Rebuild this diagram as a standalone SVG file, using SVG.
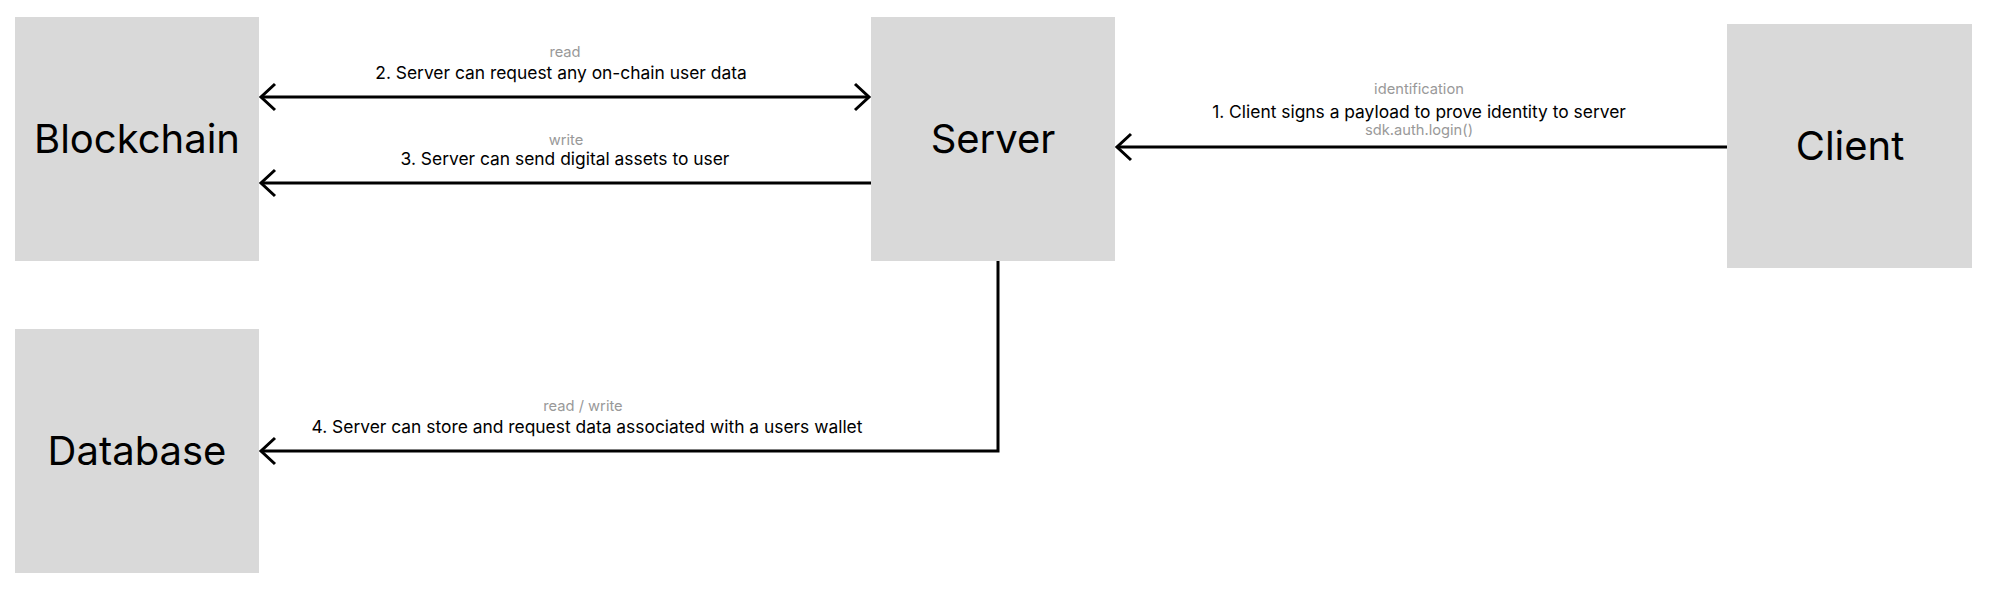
<svg xmlns="http://www.w3.org/2000/svg" width="1990" height="592" viewBox="0 0 1990 592">
<defs>
<style>
.node{fill:#d9d9d9}
.nt{font-family:Inter,"Liberation Sans",sans-serif;font-size:40px;fill:#000;text-anchor:middle}
.lbl{font-family:Inter,"Liberation Sans",sans-serif;font-size:17.4px;fill:#000;text-anchor:middle}
.sub{font-family:Inter,"Liberation Sans",sans-serif;font-size:14.7px;fill:#999;text-anchor:middle}
.conn{fill:none;stroke:#000;stroke-width:3}
</style>
<marker id="ah" markerUnits="userSpaceOnUse" markerWidth="32" markerHeight="30" viewBox="-16 -15 32 30" refX="0" refY="0" orient="auto-start-reverse" overflow="visible">
<path d="M-14,-13 L0,0 L-14,13" fill="none" stroke="#000" stroke-width="3"/>
</marker>
</defs>
<rect width="1990" height="592" fill="#fff"/>
<g id="connectors">
<line class="conn" x1="261" y1="97" x2="869" y2="97" marker-start="url(#ah)" marker-end="url(#ah)"/>
<line class="conn" x1="871" y1="183" x2="261" y2="183" marker-end="url(#ah)"/>
<line class="conn" x1="1727" y1="147" x2="1117" y2="147" marker-end="url(#ah)"/>
<path class="conn" d="M998,261 V451 H261" marker-end="url(#ah)"/>
<text class="sub" x="565" y="57">read</text>
<text class="lbl" x="561" y="79">2. Server can request any on-chain user data</text>
<text class="sub" x="566" y="145">write</text>
<text class="lbl" x="565" y="165">3. Server can send digital assets to user</text>
<text class="sub" x="1419" y="94">identification</text>
<text class="lbl" x="1419" y="118">1. Client signs a payload to prove identity to server</text>
<text class="sub" x="1419" y="135">sdk.auth.login()</text>
<text class="sub" x="583" y="411">read / write</text>
<text class="lbl" x="587" y="433">4. Server can store and request data associated with a users wallet</text>
</g>
<g id="blockchain">
<rect class="node" x="15" y="17" width="244" height="244"/>
<text class="nt" x="137" y="153">Blockchain</text>
</g>
<g id="server">
<rect class="node" x="871" y="17" width="244" height="244"/>
<text class="nt" x="993" y="153">Server</text>
</g>
<g id="client">
<rect class="node" x="1727" y="24" width="245" height="244"/>
<text class="nt" x="1850" y="160">Client</text>
</g>
<g id="database">
<rect class="node" x="15" y="329" width="244" height="244"/>
<text class="nt" x="137" y="465">Database</text>
</g>
</svg>
